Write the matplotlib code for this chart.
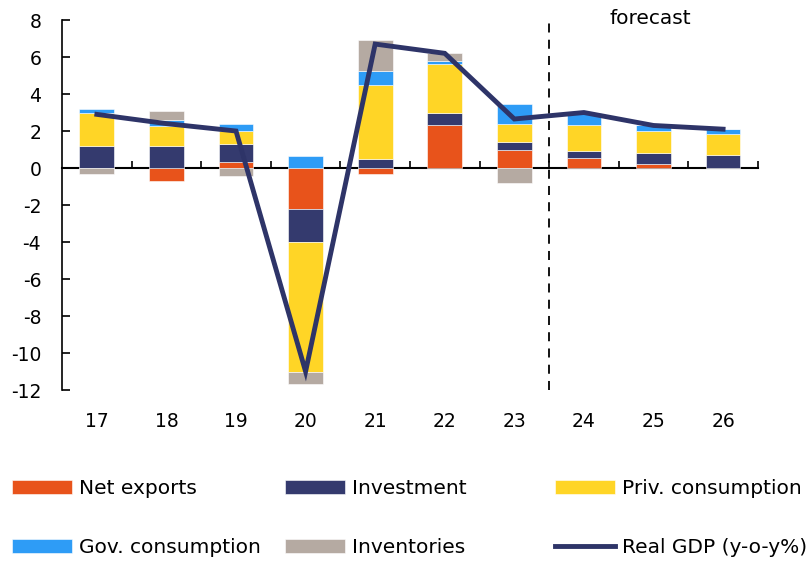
import matplotlib.pyplot as plt
import numpy as np

plt.rcParams['font.family'] = ['DejaVu Sans']
plt.rcParams['axes.unicode_minus'] = False

years = ["17", "18", "19", "20", "21", "22", "23", "24", "25", "26"]

net_exports = [0.0, -0.7, 0.35, -2.2, -0.3, 2.3, 1.0, 0.55, 0.2, 0.0]
investment  = [1.2, 1.2, 0.95, -1.8, 0.5, 0.65, 0.4, 0.35, 0.6, 0.7]
priv_cons   = [1.8, 1.05, 0.7, -7.0, 4.0, 2.7, 1.0, 1.4, 1.2, 1.15]
gov_cons    = [0.2, 0.35, 0.4, 0.65, 0.75, 0.15, 1.05, 0.65, 0.3, 0.25]
inventories = [-0.3, 0.5, -0.45, -0.7, 1.65, 0.4, -0.8, 0.0, 0.0, 0.0]
real_gdp    = [2.9, 2.4, 2.0, -11.0, 6.7, 6.2, 2.65, 3.0, 2.3, 2.1]

components = [
    ("Net exports", net_exports, "#E8531B"),
    ("Investment", investment, "#343A6E"),
    ("Priv. consumption", priv_cons, "#FFD526"),
    ("Gov. consumption", gov_cons, "#2E9CF6"),
    ("Inventories", inventories, "#B5AAA2"),
]
line_color = "#2E3468"

fig = plt.figure(figsize=(8.11, 5.61), dpi=100)
ax = fig.add_axes([0.0765, 0.3048, 0.858, 0.6595])

x = np.arange(len(years))
pos_base = np.zeros(len(years))
neg_base = np.zeros(len(years))
handles = {}
for name, vals, color in components:
    vals = np.array(vals)
    base = np.where(vals >= 0, pos_base, neg_base)
    h = ax.bar(x, vals, 0.5, bottom=base, color=color, edgecolor="white", linewidth=0.4, zorder=2)
    pos_base += np.where(vals >= 0, vals, 0)
    neg_base += np.where(vals < 0, vals, 0)
    handles[name] = h

gdp, = ax.plot(x, real_gdp, color=line_color, lw=3.5, zorder=4, solid_joinstyle="miter")

ax.axvline(6.5, color="black", lw=1.3, ls=(0, (5, 4)), zorder=3)
ax.text(7.95, 8.1, "forecast", fontsize=14.5, ha="center", va="center")

ax.set_xlim(-0.5, 9.5)
ax.set_ylim(-12, 8)
ax.set_yticks(range(-12, 9, 2))
ax.tick_params(axis="y", labelsize=13.5, length=6, width=1.2, direction="in", pad=15)
ax.spines["left"].set_linewidth(1.2)

# x axis line sits at zero, labels at the bottom
ax.spines["top"].set_visible(False)
ax.spines["right"].set_visible(False)
ax.spines["bottom"].set_visible(False)
ax.set_xticks(x)
ax.set_xticklabels(years)
ax.tick_params(axis="x", length=0, labelsize=13.5, pad=16)

zero_ax = ax.secondary_xaxis(0.6)
zero_ax.set_xticks(np.arange(0.5, 10, 1))
zero_ax.tick_params(axis="x", direction="out", length=5, width=1.2, labelbottom=False, labeltop=False)
zero_ax.spines["top"].set_linewidth(1.5)
zero_ax.spines["bottom"].set_visible(False)

# legend: three fixed columns of two rows
legend_cols = [
    [(handles["Net exports"], "Net exports"), (handles["Gov. consumption"], "Gov. consumption")],
    [(handles["Investment"], "Investment"), (handles["Inventories"], "Inventories")],
    [(handles["Priv. consumption"], "Priv. consumption"), (gdp, "Real GDP (y-o-y%)")],
]
col_x = [12 / 811, 285 / 811, 555 / 811]
for cx, items in zip(col_x, legend_cols):
    fig.legend([h for h, _ in items], [l for _, l in items],
               loc="upper left", bbox_to_anchor=(cx, 0.146), frameon=False,
               fontsize=14.5, handlelength=2.98, handleheight=0.68, handletextpad=0.35,
               labelspacing=2.0, borderaxespad=0, borderpad=0)

fig.savefig("out.png", dpi=100)
